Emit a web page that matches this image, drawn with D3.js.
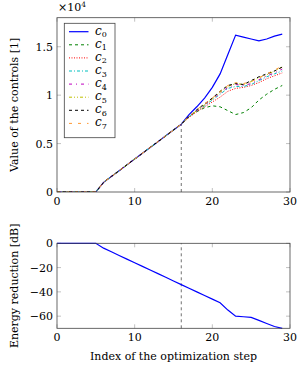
<!DOCTYPE html>
<html>
<head>
<meta charset="utf-8">
<script src="https://cdn.jsdelivr.net/npm/d3@7"></script>
<style>
    body { margin: 0; background: #fff; }
    text { font-family: "DejaVu Serif", serif; fill: #000; }
</style>
</head>
<body>
<script>
// optimization step index
let steps = d3.range(0, 30);

// shared part of every control, steps 0..16 (x 1e4)
let common = [0, 0, 0, 0, 0, 0, 0.1, 0.16, 0.22, 0.28, 0.34, 0.40, 0.46, 0.52, 0.58, 0.64, 0.70];

// steps 17..29 for each control (x 1e4)
let c0 = [0.80, 0.88, 0.97, 1.08, 1.22, 1.42, 1.62, 1.60, 1.58, 1.56, 1.58, 1.61, 1.63];
let c1 = [0.78, 0.83, 0.87, 0.89, 0.88, 0.84, 0.80, 0.82, 0.87, 0.95, 1.01, 1.06, 1.10];
let c2 = [0.77, 0.83, 0.88, 0.93, 0.98, 1.04, 1.07, 1.08, 1.10, 1.13, 1.17, 1.20, 1.23];
let c3 = [0.78, 0.84, 0.89, 0.95, 1.01, 1.07, 1.09, 1.09, 1.11, 1.15, 1.19, 1.22, 1.25];
let c4 = [0.78, 0.84, 0.90, 0.96, 1.02, 1.08, 1.11, 1.10, 1.12, 1.16, 1.20, 1.23, 1.27];
let c5 = [0.78, 0.84, 0.90, 0.96, 1.03, 1.09, 1.12, 1.11, 1.14, 1.18, 1.21, 1.25, 1.29];
let c6 = [0.78, 0.85, 0.91, 0.97, 1.04, 1.10, 1.12, 1.11, 1.15, 1.19, 1.22, 1.25, 1.29];
let c7 = [0.78, 0.85, 0.91, 0.97, 1.04, 1.10, 1.13, 1.12, 1.14, 1.18, 1.22, 1.26, 1.30];

// energy reduction [dB]
let energy = [0, 0, 0, 0, 0, 0, -4, -7, -10, -13, -16, -19, -22, -25, -28, -31, -34,
    -37, -40, -43, -46, -49, -55, -60, -60.5, -61, -63.5, -66, -68.5, -70];

let markStep = 16;
let xTicks = [0, 10, 20, 30];
let yTicksTop = [0, 0.5, 1, 1.5];
let yTicksBottom = [0, -20, -40, -60];

let seriesNames = ["0", "1", "2", "3", "4", "5", "6", "7"];
let seriesTail = [c0, c1, c2, c3, c4, c5, c6, c7];
let colors = ["#0000ff", "#008000", "#ff0000", "#00bfbf", "#bf00bf", "#bfbf00", "#000000", "#ff9933"];
let dashes = ["", "3,3", "1,1.5", "3,2,1,2", "3,4,1,4", "3,2,1,2,1,2", "3,3", "3,6"];

let svg = d3.select("body")
    .append("svg")
        .attr("width", 302)
        .attr("height", 369);

let xTop = d3.scaleLinear().domain([0, 30]).range([57, 290]);
let yTop = d3.scaleLinear().domain([0, 1.8]).range([192, 17.7]);
let xBot = d3.scaleLinear().domain([0, 30]).range([57, 290]);
let yBot = d3.scaleLinear().domain([-70, 0]).range([328.3, 243.3]);

function fmt(v) {
    return String(v).replace("-", "\u2212");
}

// inner ticks on all four sides, tick labels
function drawAxes(x, y, yTicks) {
    let [x0, x1] = x.range();
    let [y0, y1] = y.range();
    let g = svg.append("g");

    let ticks = g.append("g").attr("stroke", "#999").attr("stroke-width", 0.6);
    xTicks.forEach(t => {
        ticks.append("line").attr("x1", x(t)).attr("x2", x(t)).attr("y1", y0).attr("y2", y0 - 4);
        ticks.append("line").attr("x1", x(t)).attr("x2", x(t)).attr("y1", y1).attr("y2", y1 + 4);
    });
    yTicks.forEach(t => {
        ticks.append("line").attr("x1", x0).attr("x2", x0 + 4).attr("y1", y(t)).attr("y2", y(t));
        ticks.append("line").attr("x1", x1).attr("x2", x1 - 4).attr("y1", y(t)).attr("y2", y(t));
    });

    g.selectAll("text.xt")
        .data(xTicks)
        .enter()
            .append("text")
            .attr("class", "xt")
            .attr("x", d => x(d))
            .attr("y", y0 + 13)
            .attr("text-anchor", "middle")
            .style("font-size", "11px")
            .text(d => fmt(d));

    g.selectAll("text.yt")
        .data(yTicks)
        .enter()
            .append("text")
            .attr("class", "yt")
            .attr("x", x0 - 4)
            .attr("y", d => y(d) + 4)
            .attr("text-anchor", "end")
            .style("font-size", "11px")
            .text(d => fmt(d));
    return g;
}

function drawFrame(x, y) {
    let [x0, x1] = x.range();
    let [y0, y1] = y.range();
    svg.append("rect")
        .attr("x", x0).attr("y", y1)
        .attr("width", x1 - x0).attr("height", y0 - y1)
        .attr("fill", "none")
        .attr("stroke", "#444")
        .attr("stroke-width", 0.8);
}

// ---- top plot ----
drawAxes(xTop, yTop, yTicksTop);

svg.append("clipPath").attr("id", "clipTop")
    .append("rect").attr("x", 57).attr("y", 17.7).attr("width", 233).attr("height", 174.3);

svg.append("line")
    .attr("x1", xTop(markStep)).attr("x2", xTop(markStep))
    .attr("y1", yTop(0)).attr("y2", yTop(common[markStep]))
    .attr("stroke", "#333")
    .attr("stroke-width", 0.7)
    .attr("stroke-dasharray", "3,3");

let line = d3.line()
    .x(d => xTop(d.x))
    .y(d => yTop(d.y));

let controls = seriesTail.map(tail => common.concat(tail).map((v, i) => ({x: steps[i], y: v})));

svg.append("g")
    .attr("clip-path", "url(#clipTop)")
    .selectAll("path")
    .data(controls)
    .enter()
        .append("path")
        .attr("d", d => line(d))
        .attr("fill", "none")
        .attr("stroke", (d, i) => colors[i])
        .attr("stroke-width", (d, i) => i == 0 ? 1.2 : 1)
        .attr("stroke-dasharray", (d, i) => dashes[i]);

drawFrame(xTop, yTop);

// x10^4 multiplier
let mult = svg.append("text").attr("x", 58).attr("y", 11).style("font-size", "11px");
mult.append("tspan").text("\u00d710");
mult.append("tspan").attr("dy", -4).style("font-size", "7.5px").text("4");

svg.append("text")
    .attr("transform", "translate(18," + ((192 + 17.7) / 2) + ") rotate(-90)")
    .attr("text-anchor", "middle")
    .style("font-size", "11px")
    .text("Value of the controls [1]");

// legend
let legend = svg.append("g");
legend.append("rect")
    .attr("x", 64.3).attr("y", 23.3)
    .attr("width", 50.7).attr("height", 114.4)
    .attr("fill", "#fff")
    .attr("stroke", "#444")
    .attr("stroke-width", 0.8);

let items = legend.selectAll("g.item")
    .data(seriesNames)
    .enter()
        .append("g")
        .attr("class", "item")
        .attr("transform", (d, i) => `translate(0, ${31.7 + i * 13.1})`);

items.append("line")
    .attr("x1", 69).attr("x2", 88.5)
    .attr("y1", 0).attr("y2", 0)
    .attr("stroke", (d, i) => colors[i])
    .attr("stroke-width", (d, i) => i == 0 ? 1.2 : 1)
    .attr("stroke-dasharray", (d, i) => dashes[i]);

let labels = items.append("text")
    .attr("x", 95)
    .attr("y", 3)
    .style("font-size", "12px");
labels.append("tspan").style("font-style", "italic").text("c");
labels.append("tspan").attr("dy", 2.5).style("font-size", "8px").text(d => d);

// ---- bottom plot ----
drawAxes(xBot, yBot, yTicksBottom);

svg.append("line")
    .attr("x1", xBot(markStep)).attr("x2", xBot(markStep))
    .attr("y1", yBot(-70)).attr("y2", yBot(0))
    .attr("stroke", "#333")
    .attr("stroke-width", 0.7)
    .attr("stroke-dasharray", "3,3");

let energyLine = d3.line()
    .x((d, i) => xBot(steps[i]))
    .y(d => yBot(d));

svg.append("path")
    .attr("d", energyLine(energy))
    .attr("fill", "none")
    .attr("stroke", "#0000ff")
    .attr("stroke-width", 1.2);

drawFrame(xBot, yBot);

svg.append("text")
    .attr("transform", "translate(18," + ((328.3 + 243.3) / 2) + ") rotate(-90)")
    .attr("text-anchor", "middle")
    .style("font-size", "11px")
    .text("Energy reduction [dB]");

svg.append("text")
    .attr("x", (57 + 290) / 2)
    .attr("y", 360)
    .attr("text-anchor", "middle")
    .style("font-size", "11px")
    .text("Index of the optimization step");
</script>
</body>
</html>
